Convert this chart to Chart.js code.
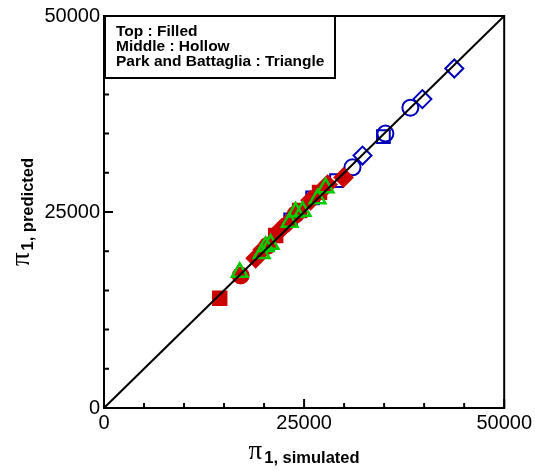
<!DOCTYPE html>
<html>
<head>
<meta charset="utf-8">
<script src="https://cdn.jsdelivr.net/npm/chart.js@4"></script>
<style>
  html, body { margin: 0; padding: 0; background: #fff; }
  #wrap { width: 535px; height: 471px; }
</style>
</head>
<body>
<div id="wrap"><canvas id="chart" width="535" height="471"></canvas></div>
<script>
// axis ticks
const xTicks = [0, 25000, 50000];
const yTicks = [0, 25000, 50000];
const minorStep = 5000;

// top (filled, red)
const redSquareX = [14460, 21450, 24440, 26930];
const redSquareY = [14000, 22000, 25200, 27500];
const redCircleX = [17080, 20450, 23940];
const redCircleY = [16900, 20700, 24700];
const redDiamondX = [18950, 19830, 22190, 23070, 25810, 27930, 29930];
const redDiamondY = [19100, 20200, 22900, 23700, 26500, 28500, 29400];

// middle (hollow, blue)
const blueCircleX = [31050, 35160, 38280];
const blueCircleY = [30700, 35000, 38300];
const blueSquareX = [23320, 26060, 29050, 34910];
const blueSquareY = [24000, 26800, 29000, 34600];
const blueDiamondX = [32300, 39780, 43770];
const blueDiamondY = [32200, 39400, 43300];

// Park and Battaglia (triangle, green)
const greenX = [16960, 19700, 20200, 20820, 23190, 23940, 24810, 26680, 27680];
const greenY = [17300, 19700, 20600, 20900, 23700, 25000, 25100, 26700, 28100];

const legendLines = ['Top : Filled', 'Middle : Hollow', 'Park and Battaglia : Triangle'];

function pts(xs, ys) {
    return xs.map((x, i) => ({ x: x, y: ys[i] }));
}

const RED = '#cc0000';
const BLUE = '#0000bb';
const GREEN = '#00cc00';
const SANS = '"Liberation Sans", Arial, sans-serif';

function markerSet(label, xs, ys, style, color, filled, r, w) {
    return {
        label: label,
        data: pts(xs, ys),
        pointStyle: style,
        pointRadius: r,
        pointHoverRadius: r,
        borderColor: color,
        backgroundColor: filled ? color : 'rgba(0,0,0,0)',
        borderWidth: w || 2,
        showLine: false
    };
}

// pi with a bold subscript, centred on (0,0) of the current transform
function axisTitle(ctx, sub) {
    ctx.font = '27px "Liberation Serif", serif';
    const wPi = ctx.measureText('\u03c0').width;
    ctx.font = 'bold 16.5px ' + SANS;
    const wSub = ctx.measureText(sub).width;
    const x0 = -(wPi + 2 + wSub) / 2;
    ctx.font = '27px "Liberation Serif", serif';
    ctx.fillText('\u03c0', x0, 0);
    ctx.font = 'bold 16.5px ' + SANS;
    ctx.fillText(sub, x0 + wPi + 2, 4);
}

// frame, inward ticks, legend box and axis titles
const decor = {
    id: 'decor',
    afterDraw(chart) {
        const ctx = chart.ctx;
        const a = chart.chartArea;
        const xs = chart.scales.x, ys = chart.scales.y;
        ctx.save();
        ctx.strokeStyle = '#000';
        ctx.lineWidth = 2;
        ctx.strokeRect(a.left, a.top, a.right - a.left, a.bottom - a.top);

        ctx.beginPath();
        for (let v = 0; v <= 50000; v += minorStep) {
            const len = (v % 25000 === 0) ? 9 : 5;
            const px = xs.getPixelForValue(v);
            ctx.moveTo(px, a.bottom);
            ctx.lineTo(px, a.bottom - len);
            const py = ys.getPixelForValue(v);
            ctx.moveTo(a.left, py);
            ctx.lineTo(a.left + len, py);
        }
        ctx.stroke();

        // legend box
        ctx.fillStyle = '#fff';
        ctx.fillRect(a.left + 1, a.top, 230, 62);
        ctx.strokeRect(a.left + 1, a.top, 230, 62);
        ctx.fillStyle = '#000';
        ctx.font = 'bold 15.5px ' + SANS;
        ctx.textAlign = 'left';
        ctx.textBaseline = 'alphabetic';
        legendLines.forEach((t, i) => ctx.fillText(t, a.left + 12, a.top + 20 + i * 15));

        // x title
        ctx.save();
        ctx.translate((a.left + a.right) / 2, 459);
        axisTitle(ctx, '1, simulated');
        ctx.restore();

        // y title
        ctx.translate(29, (a.top + a.bottom) / 2);
        ctx.rotate(-Math.PI / 2);
        axisTitle(ctx, '1, predicted');
        ctx.restore();
    }
};

new Chart(document.getElementById('chart'), {
    type: 'scatter',
    data: {
        datasets: [
            markerSet('Park and Battaglia', greenX, greenY, 'triangle', GREEN, false, 9, 2.5),
            markerSet('Top square', redSquareX, redSquareY, 'rect', RED, true, 9.5),
            markerSet('Top circle', redCircleX, redCircleY, 'circle', RED, true, 8),
            markerSet('Top diamond', redDiamondX, redDiamondY, 'rectRot', RED, true, 9),
            markerSet('Middle circle', blueCircleX, blueCircleY, 'circle', BLUE, false, 8),
            markerSet('Middle square', blueSquareX, blueSquareY, 'rect', BLUE, false, 9),
            markerSet('Middle diamond', blueDiamondX, blueDiamondY, 'rectRot', BLUE, false, 9),
            {
                label: 'y = x',
                data: [{ x: xTicks[0], y: yTicks[0] }, { x: xTicks[2], y: yTicks[2] }],
                showLine: true,
                borderColor: '#000',
                borderWidth: 2,
                pointRadius: 0,
                order: -1
            }
        ]
    },
    options: {
        responsive: false,
        animation: false,
        layout: { padding: { left: 0, top: 15, right: 30, bottom: 0 } },
        plugins: { legend: { display: false }, tooltip: { enabled: false } },
        scales: {
            x: {
                type: 'linear',
                min: 0, max: 50000,
                afterBuildTicks: s => { s.ticks = xTicks.map(v => ({ value: v })); },
                afterFit: s => { s.height = 63; },
                grid: { display: false, drawTicks: false },
                border: { display: false },
                ticks: {
                    color: '#000', padding: 3, maxRotation: 0,
                    font: { family: SANS, size: 20 },
                    callback: v => String(v)
                }
            },
            y: {
                type: 'linear',
                min: 0, max: 50000,
                afterBuildTicks: s => { s.ticks = yTicks.map(v => ({ value: v })); },
                afterFit: s => { s.width = 104; },
                grid: { display: false, drawTicks: false },
                border: { display: false },
                ticks: {
                    color: '#000', padding: 4,
                    font: { family: SANS, size: 20 },
                    callback: v => String(v)
                }
            }
        }
    },
    plugins: [decor]
});
</script>
</body>
</html>
